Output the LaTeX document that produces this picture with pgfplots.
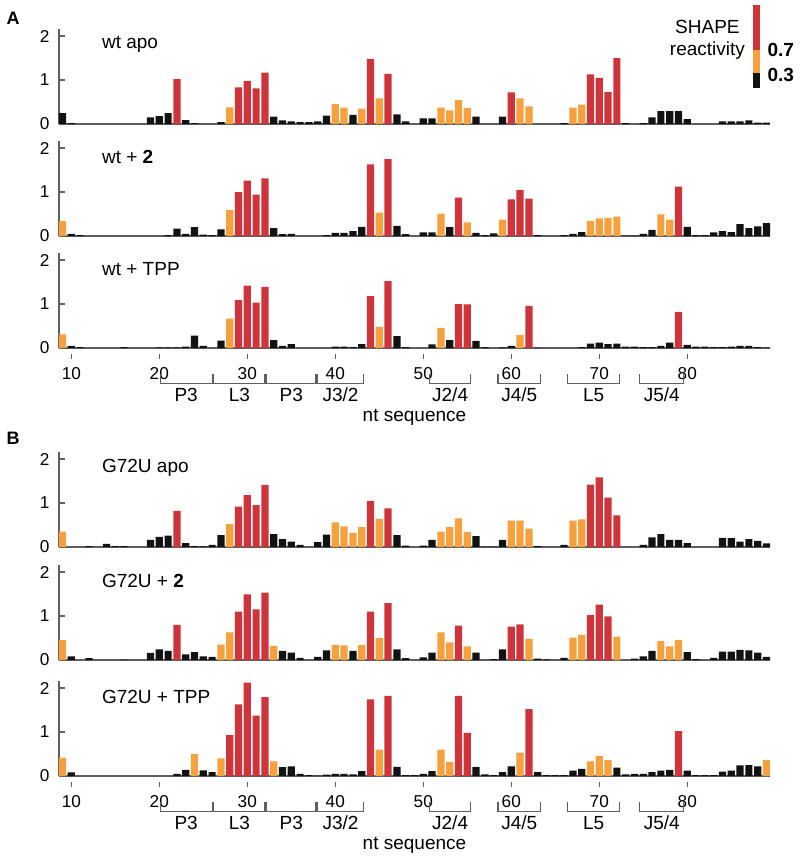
\documentclass[border=0pt]{standalone}
\usepackage{pgfplots}
\pgfplotsset{compat=1.18}
\usepackage{pgfplotstable}
\usepackage{fontspec}
\setmainfont{Liberation Sans}
\definecolor{sred}{RGB}{207,52,58}
\definecolor{sorange}{RGB}{246,160,62}
\definecolor{sblack}{RGB}{18,18,18}
\definecolor{axgray}{RGB}{95,95,95}

\pgfplotstableread{
nt v
9 0.25
10 0.02
19 0.15
20 0.18
21 0.25
22 1.02
23 0.09
24 0.02
27 0.04
28 0.38
29 0.83
30 0.98
31 0.81
32 1.17
33 0.17
34 0.08
35 0.06
36 0.04
37 0.04
38 0.06
39 0.19
40 0.45
41 0.37
42 0.21
43 0.35
44 1.48
45 0.58
46 1.14
47 0.22
48 0.06
50 0.13
51 0.13
52 0.37
53 0.31
54 0.54
55 0.36
56 0.17
59 0.17
60 0.72
61 0.58
62 0.40
66 0.02
67 0.37
68 0.44
69 1.13
70 1.05
71 0.73
72 1.50
73 0.02
75 0.02
76 0.15
77 0.29
78 0.29
79 0.29
80 0.11
84 0.06
85 0.06
86 0.06
87 0.08
88 0.03
89 0.03
}\wtapo

\pgfplotstableread{
nt v
9 0.34
10 0.05
11 0.02
21 0.02
22 0.17
23 0.05
24 0.20
25 0.03
26 0.02
27 0.15
28 0.59
29 1.00
30 1.26
31 0.94
32 1.31
33 0.18
34 0.04
35 0.05
39 0.02
40 0.07
41 0.07
42 0.11
43 0.21
44 1.63
45 0.53
46 1.75
47 0.23
48 0.04
50 0.08
51 0.08
52 0.51
53 0.20
54 0.87
55 0.31
56 0.07
57 0.02
58 0.06
59 0.37
60 0.83
61 1.05
62 0.85
63 0.02
66 0.02
67 0.05
68 0.09
69 0.34
70 0.40
71 0.41
72 0.44
73 0.01
74 0.01
75 0.05
76 0.14
77 0.49
78 0.37
79 1.12
80 0.21
81 0.02
82 0.02
83 0.08
84 0.11
85 0.09
86 0.27
87 0.18
88 0.22
89 0.29
}\wttwo

\pgfplotstableread{
nt v
9 0.31
10 0.05
11 0.02
16 0.02
20 0.015
21 0.015
22 0.015
23 0.03
24 0.28
25 0.05
27 0.17
28 0.67
29 1.09
30 1.42
31 1.03
32 1.39
33 0.18
34 0.05
35 0.09
40 0.03
41 0.03
42 0.02
43 0.09
44 1.18
45 0.48
46 1.52
47 0.27
48 0.02
51 0.08
52 0.46
53 0.18
54 1.00
55 0.99
56 0.16
57 0.02
59 0.015
60 0.05
61 0.30
62 0.96
63 0.01
68 0.02
69 0.10
70 0.12
71 0.09
72 0.10
73 0.03
74 0.03
75 0.02
76 0.02
77 0.05
78 0.12
79 0.82
80 0.07
81 0.03
82 0.03
83 0.02
84 0.02
85 0.03
86 0.05
87 0.05
88 0.02
89 0.01
}\wttpp

\pgfplotstableread{
nt v
9 0.35
12 0.02
14 0.07
15 0.02
16 0.02
19 0.16
20 0.23
21 0.26
22 0.82
23 0.09
24 0.02
25 0.015
26 0.05
27 0.27
28 0.52
29 0.92
30 1.18
31 0.95
32 1.41
33 0.29
34 0.18
35 0.12
36 0.05
38 0.11
39 0.28
40 0.56
41 0.47
42 0.32
43 0.45
44 1.05
45 0.64
46 0.88
47 0.27
48 0.03
50 0.03
51 0.16
52 0.35
53 0.45
54 0.65
55 0.34
56 0.25
57 0.01
58 0.01
59 0.16
60 0.60
61 0.60
62 0.42
63 0.02
66 0.05
67 0.60
68 0.63
69 1.42
70 1.58
71 1.12
72 0.72
75 0.05
76 0.22
77 0.29
78 0.16
79 0.16
80 0.09
84 0.21
85 0.20
86 0.12
87 0.18
88 0.14
89 0.08
}\gapo

\pgfplotstableread{
nt v
9 0.45
10 0.08
12 0.04
16 0.01
19 0.16
20 0.24
21 0.21
22 0.80
23 0.13
24 0.18
25 0.08
26 0.07
27 0.35
28 0.63
29 1.10
30 1.49
31 1.15
32 1.53
33 0.32
34 0.21
35 0.17
36 0.05
38 0.07
39 0.22
40 0.34
41 0.33
42 0.21
43 0.34
44 1.10
45 0.50
46 1.29
47 0.24
48 0.04
50 0.06
51 0.17
52 0.63
53 0.40
54 0.78
55 0.31
56 0.17
58 0.02
59 0.24
60 0.76
61 0.81
62 0.48
63 0.03
64 0.015
66 0.05
67 0.51
68 0.57
69 1.02
70 1.26
71 0.99
72 0.53
74 0.03
75 0.08
76 0.21
77 0.43
78 0.31
79 0.46
80 0.18
81 0.02
83 0.05
84 0.19
85 0.19
86 0.23
87 0.22
88 0.17
89 0.07
}\gtwo

\pgfplotstableread{
nt v
9 0.41
10 0.08
22 0.05
23 0.14
24 0.50
25 0.13
26 0.09
27 0.40
28 0.93
29 1.63
30 2.12
31 1.37
32 1.79
33 0.33
34 0.20
35 0.22
36 0.05
37 0.02
38 0.01
39 0.03
40 0.05
41 0.05
42 0.04
43 0.11
44 1.74
45 0.60
46 1.82
47 0.21
48 0.02
49 0.02
50 0.05
51 0.11
52 0.60
53 0.32
54 1.82
55 0.98
56 0.21
57 0.04
58 0.02
59 0.09
60 0.22
61 0.53
62 1.52
63 0.09
64 0.02
65 0.02
66 0.02
67 0.12
68 0.16
69 0.33
70 0.45
71 0.36
72 0.19
73 0.04
74 0.05
75 0.05
76 0.09
77 0.12
78 0.14
79 1.02
80 0.12
81 0.02
82 0.02
83 0.02
84 0.10
85 0.12
86 0.24
87 0.25
88 0.22
89 0.36
}\gtpp

\newcommand{\shapebars}[1]{%
\addplot[fill=sblack,draw=none,bar shift=0pt,restrict y to domain=0:0.2999] table[x=nt,y=v]{#1};
\addplot[fill=sorange,draw=none,bar shift=0pt,restrict y to domain=0.3:0.6999] table[x=nt,y=v]{#1};
\addplot[fill=sred,draw=none,bar shift=0pt,restrict y to domain=0.7:5] table[x=nt,y=v]{#1};
}

\newcommand{\txt}{\fontsize{9.5}{11}\selectfont}

\newcommand{\annot}{%
\draw[axgray,line width=0.6pt] (axis cs:20.1,-0.6) -- (axis cs:20.1,-0.8) -- (axis cs:26.0,-0.8) -- (axis cs:26.0,-0.6);
\draw[axgray,line width=0.6pt] (axis cs:26.2,-0.6) -- (axis cs:26.2,-0.8) -- (axis cs:32.0,-0.8) -- (axis cs:32.0,-0.6);
\draw[axgray,line width=0.6pt] (axis cs:32.2,-0.6) -- (axis cs:32.2,-0.8) -- (axis cs:37.8,-0.8) -- (axis cs:37.8,-0.6);
\draw[axgray,line width=0.6pt] (axis cs:38.0,-0.6) -- (axis cs:38.0,-0.8) -- (axis cs:43.2,-0.8) -- (axis cs:43.2,-0.6);
\draw[axgray,line width=0.6pt] (axis cs:50.7,-0.6) -- (axis cs:50.7,-0.8) -- (axis cs:55.4,-0.8) -- (axis cs:55.4,-0.6);
\draw[axgray,line width=0.6pt] (axis cs:58.5,-0.6) -- (axis cs:58.5,-0.8) -- (axis cs:63.3,-0.8) -- (axis cs:63.3,-0.6);
\draw[axgray,line width=0.6pt] (axis cs:66.4,-0.6) -- (axis cs:66.4,-0.8) -- (axis cs:72.3,-0.8) -- (axis cs:72.3,-0.6);
\draw[axgray,line width=0.6pt] (axis cs:74.6,-0.6) -- (axis cs:74.6,-0.8) -- (axis cs:79.6,-0.8) -- (axis cs:79.6,-0.6);
\node[font=\txt] at (axis cs:23.05,-1.06) {P3};
\node[font=\txt] at (axis cs:29.1,-1.06) {L3};
\node[font=\txt] at (axis cs:35.0,-1.06) {P3};
\node[font=\txt] at (axis cs:40.6,-1.06) {J3/2};
\node[font=\txt] at (axis cs:53.05,-1.06) {J2/4};
\node[font=\txt] at (axis cs:60.9,-1.06) {J4/5};
\node[font=\txt] at (axis cs:69.35,-1.06) {L5};
\node[font=\txt] at (axis cs:77.1,-1.06) {J5/4};
\node[font=\txt] at (axis cs:49,-1.58) {nt sequence};
}

\pgfplotsset{
 shapepanel/.style={
  scale only axis, width=355.5pt, height=47.3pt,
  xmin=8.6, xmax=89.4, ymin=0, ymax=2.15,
  axis x line=bottom, axis y line=left,
  axis line style={-, axgray, line width=0.7pt},
  ytick={0,1,2}, xtick=\empty,
  tick align=inside,
  major tick length=2.8pt,
  tick style={axgray, line width=0.7pt},
  tick label style={font=\fontsize{8.6}{10}\selectfont, text=black},
  yticklabel style={xshift=-1.2pt},
  xticklabel style={yshift=-3.5pt},
  /pgf/number format/assume math mode=true,
  ybar, bar width=0.82,
  clip=false,
  anchor=south west,
 },
 bottompanel/.style={
  xtick={10,20,30,40,50,60,70,80},
  every major x tick/.append style={yshift=-2.8pt},
 },
}

\begin{document}
\begin{tikzpicture}
\path[use as bounding box] (0,0) rectangle (400pt,-431pt);

\node[font=\fontsize{9}{10}\selectfont\bfseries] at (6.5pt,-9pt) {A};
\node[font=\fontsize{9}{10}\selectfont\bfseries] at (6.5pt,-219pt) {B};

% colour key
\fill[sred] (376.4pt,-2.5pt) rectangle (380pt,-25pt);
\fill[sorange] (376.4pt,-25pt) rectangle (380pt,-36.4pt);
\fill[sblack] (376.4pt,-36.4pt) rectangle (380pt,-44pt);
\node[anchor=west,inner sep=0pt,font=\txt\bfseries] at (383.6pt,-25pt) {0.7};
\node[anchor=west,inner sep=0pt,font=\txt\bfseries] at (383.6pt,-37.5pt) {0.3};
\node[font=\txt] at (353.7pt,-13.5pt) {SHAPE};
\node[font=\txt] at (353.7pt,-25.5pt) {reactivity};

\begin{axis}[shapepanel, at={(29.5pt,-62pt)}]
\shapebars{\wtapo}
\node[anchor=west,inner sep=0pt,font=\txt] at (axis cs:13.45,1.8) {wt apo};
\end{axis}

\begin{axis}[shapepanel, at={(29.5pt,-118pt)}]
\shapebars{\wttwo}
\node[anchor=west,inner sep=0pt,font=\txt] at (axis cs:13.45,1.8) {wt + \textbf{2}};
\end{axis}

\begin{axis}[shapepanel, bottompanel, at={(29.5pt,-174pt)}]
\shapebars{\wttpp}
\node[anchor=west,inner sep=0pt,font=\txt] at (axis cs:13.45,1.8) {wt + TPP};
\annot
\end{axis}

\begin{axis}[shapepanel, at={(29.5pt,-273.5pt)}]
\shapebars{\gapo}
\node[anchor=west,inner sep=0pt,font=\txt] at (axis cs:13.45,1.8) {G72U apo};
\end{axis}

\begin{axis}[shapepanel, at={(29.5pt,-330pt)}]
\shapebars{\gtwo}
\node[anchor=west,inner sep=0pt,font=\txt] at (axis cs:13.45,1.8) {G72U + \textbf{2}};
\end{axis}

\begin{axis}[shapepanel, bottompanel, at={(29.5pt,-388pt)}]
\shapebars{\gtpp}
\node[anchor=west,inner sep=0pt,font=\txt] at (axis cs:13.45,1.8) {G72U + TPP};
\annot
\end{axis}
\end{tikzpicture}
\end{document}
